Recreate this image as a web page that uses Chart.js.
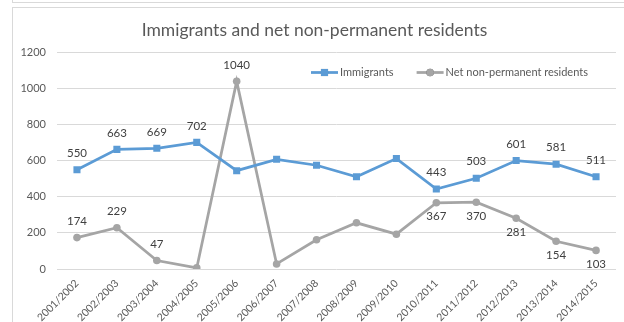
<!DOCTYPE html>
<html>
<head>
<meta charset="utf-8">
<script src="https://cdn.jsdelivr.net/npm/chart.js@4.4.0/dist/chart.umd.min.js"></script>
<style>
  html, body { margin: 0; padding: 0; background: #fff; }
  body { width: 624px; height: 322px; position: relative; overflow: hidden; }
  #strip { position: absolute; left: 12px; top: 0; width: 612px; height: 2px;
           border-left: 1px solid #d9d9d9; border-bottom: 1px solid #d9d9d9; }
  #frame { position: absolute; left: 12px; top: 7px; width: 611px; height: 314px;
           border-left: 1px solid #d9d9d9; border-top: 1px solid #d9d9d9; }
  canvas { display: block; }
</style>
</head>
<body>
<div id="strip"></div>
<div id="frame"><canvas id="chart" width="611" height="314"></canvas></div>
<script>
const years = ["2001/2002", "2002/2003", "2003/2004", "2004/2005", "2005/2006", "2006/2007", "2007/2008",
               "2008/2009", "2009/2010", "2010/2011", "2011/2012", "2012/2013", "2013/2014", "2014/2015"];
const immigrants = [550, 663, 669, 702, 545, 608, 575, 511, 612, 443, 503, 601, 581, 511];
const nonPermanent = [174, 229, 47, 6, 1040, 28, 162, 256, 193, 367, 370, 281, 154, 103];

const BLUE = "#5b9bd5";
const GREY = "#a5a5a5";
const TEXT = "#595959";

// where each point's value is written ('' = no label)
const immigrantSides = ["up", "up", "up", "up", "", "", "", "", "", "up", "up", "up", "up", "up"];
const nonPermSides = ["up", "up", "up", "", "up", "", "", "", "", "down", "down", "down", "down", "down"];

const valueLabels = {
  id: "valueLabels",
  afterDatasetsDraw(chart) {
    const ctx = chart.ctx;
    ctx.save();
    ctx.font = "11.5px Lato";
    ctx.fillStyle = "#404040";
    ctx.textAlign = "center";
    ctx.textBaseline = "middle";
    chart.data.datasets.forEach((ds, i) => {
      chart.getDatasetMeta(i).data.forEach((pt, j) => {
        const side = ds.labelSides[j];
        if (!side) return;
        ctx.fillText(ds.data[j], pt.x, pt.y + (side === "up" ? -16.5 : 14));
      });
    });
    ctx.restore();
  }
};

// legend drawn inside the plot: line + marker, then the name
const lineLegend = {
  id: "lineLegend",
  afterDraw(chart) {
    const ctx = chart.ctx;
    const area = chart.chartArea;
    let x = area.left + 254;
    const y = area.top + 20;
    ctx.save();
    ctx.font = "11px Lato";
    ctx.textBaseline = "middle";
    chart.data.datasets.forEach((ds) => {
      ctx.strokeStyle = ds.borderColor;
      ctx.lineWidth = ds.borderWidth;
      ctx.beginPath();
      ctx.moveTo(x, y);
      ctx.lineTo(x + 27, y);
      ctx.stroke();
      Chart.helpers.drawPoint(ctx, {
        pointStyle: ds.pointStyle, radius: ds.pointRadius, rotation: 0, borderWidth: 0
      }, x + 13.5, y);
      ctx.fillStyle = ds.borderColor;
      ctx.fill();
      ctx.fillStyle = TEXT;
      ctx.fillText(ds.label, x + 29, y);
      x += 29 + ctx.measureText(ds.label).width + 23;
    });
    ctx.restore();
  }
};

new Chart(document.getElementById("chart"), {
  type: "line",
  data: {
    labels: years,
    datasets: [
      {
        label: "Immigrants",
        data: immigrants,
        labelSides: immigrantSides,
        borderColor: BLUE,
        backgroundColor: BLUE,
        borderWidth: 2.75,
        pointStyle: "rect",
        pointRadius: 5,
        pointBorderWidth: 0,
        tension: 0
      },
      {
        label: "Net non-permanent residents",
        data: nonPermanent,
        labelSides: nonPermSides,
        borderColor: GREY,
        backgroundColor: GREY,
        borderWidth: 2.75,
        pointStyle: "circle",
        pointRadius: 3.8,
        pointBorderWidth: 0,
        tension: 0
      }
    ]
  },
  options: {
    responsive: false,
    devicePixelRatio: 1,
    animation: false,
    layout: { padding: { left: 0, right: 8, top: 0, bottom: 0 } },
    plugins: {
      legend: { display: false },
      tooltip: { enabled: false },
      title: {
        display: true,
        text: "Immigrants and net non-permanent residents",
        color: TEXT,
        font: { family: "Lato", size: 17.5, weight: "normal", lineHeight: 1.2 },
        padding: { top: 12, bottom: 11.5 }
      }
    },
    scales: {
      x: {
        offset: true,
        grid: { display: false },
        border: { display: false },
        ticks: {
          color: TEXT,
          font: { family: "Lato", size: 10.5 },
          minRotation: 45,
          maxRotation: 45,
          autoSkip: false,
          padding: 0
        },
        afterFit(scale) { scale.height = 53; }
      },
      y: {
        min: 0,
        max: 1200,
        grid: { color: "#d9d9d9", lineWidth: 1, drawTicks: false },
        border: { display: false },
        ticks: {
          stepSize: 200,
          color: TEXT,
          font: { family: "Lato", size: 11 },
          padding: 11,
          callback: (v) => String(v)
        },
        afterFit(scale) { scale.width = 44; }
      }
    }
  },
  plugins: [valueLabels, lineLegend]
});
</script>
</body>
</html>
